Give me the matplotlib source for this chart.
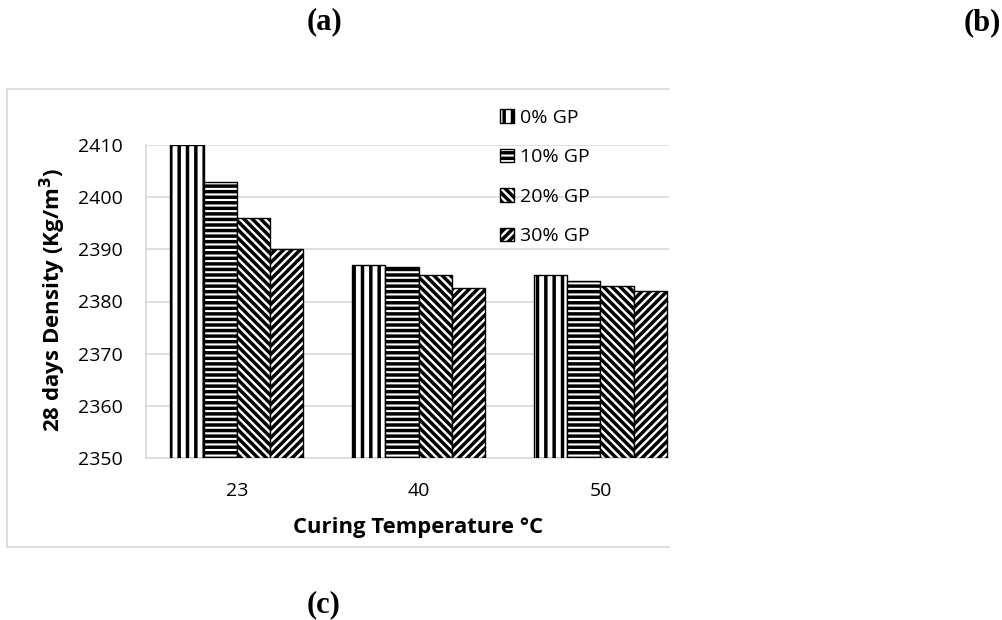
import numpy as np
import matplotlib
matplotlib.use("Agg")
import matplotlib.pyplot as plt
from matplotlib.lines import Line2D

# --- data ---
temperatures = ["23", "40", "50"]
series_names = ["0% GP", "10% GP", "20% GP", "30% GP"]
gp0 = [2410.0, 2387.0, 2385.0]
gp10 = [2403.0, 2386.7, 2384.0]
gp20 = [2396.0, 2385.0, 2383.0]
gp30 = [2390.0, 2382.5, 2382.0]
yticks = [2350, 2360, 2370, 2380, 2390, 2400, 2410]

series = [gp0, gp10, gp20, gp30]
hatches = ["||", "---", "\\\\\\\\", "////"]

plt.rcParams["font.family"] = ["Open Sans", "DejaVu Sans"]
plt.rcParams["hatch.linewidth"] = 2.5
plt.rcParams["hatch.color"] = "black"

W, H = 1003, 620
fig = plt.figure(figsize=(W / 100, H / 100), dpi=100)

# light grey chart frame, cut off on the right like the source image
frame = dict(transform=fig.transFigure, color="#d9d9d9", linewidth=1.2)
fig.add_artist(Line2D([7 / W, 669 / W], [1 - 89 / H, 1 - 89 / H], **frame))
fig.add_artist(Line2D([7 / W, 669 / W], [1 - 547 / H, 1 - 547 / H], **frame))
fig.add_artist(Line2D([7 / W, 7 / W], [1 - 89 / H, 1 - 547 / H], **frame))

# plot area: 146..669 px wide, 145..458 px tall
ax = fig.add_axes([146 / W, 1 - 458 / H, (669 - 146) / W, (458 - 145) / H])

x = np.arange(len(temperatures))
width = 0.183
for i, (vals, h, name) in enumerate(zip(series, hatches, series_names)):
    ax.bar(x + (i - 1.5) * width, np.array(vals) - 2350, bottom=2350,
           width=width, color="white", edgecolor="black", linewidth=1.0,
           hatch=h, label=name, zorder=3)

ax.set_ylim(2350, 2410)
ax.set_xlim(-0.5, 2.377)
ax.set_yticks(yticks)
ax.set_xticks(x)
ax.set_xticklabels(temperatures)
ax.tick_params(axis="both", length=0, labelsize=14, colors="black")
ax.tick_params(axis="y", pad=17)
ax.tick_params(axis="x", pad=17)
ax.grid(axis="y", color="#d9d9d9", linewidth=1.2, zorder=0)
ax.set_axisbelow(True)
for side in ["top", "right"]:
    ax.spines[side].set_visible(False)
for side in ["left", "bottom"]:
    ax.spines[side].set_color("#d9d9d9")
    ax.spines[side].set_linewidth(1.2)

fig.text(53 / W, 1 - 300 / H, "28 days Density (Kg/m$^{\\mathbf{3}}$)", fontsize=16,
         fontweight="bold", rotation=90, ha="center", va="center")
fig.text(418 / W, 1 - 528 / H, "Curing Temperature °C", fontsize=15.8,
         fontweight="bold", ha="center", va="center")

leg = ax.legend(loc="upper left", bbox_to_anchor=(500 / W, 1 - 109 / H),
                bbox_transform=fig.transFigure, frameon=False, fontsize=14,
                handlelength=0.7, handleheight=0.7, handletextpad=0.35,
                labelspacing=1.1, borderpad=0, borderaxespad=0)

serif = ["Liberation Serif", "DejaVu Serif"]
fig.text(325 / W, 1 - 22 / H, "(a)", family=serif, fontsize=22, fontweight="bold",
         ha="center", va="center")
fig.text(982 / W, 1 - 23 / H, "(b)", family=serif, fontsize=22, fontweight="bold",
         ha="center", va="center")
fig.text(324 / W, 1 - 605 / H, "(c)", family=serif, fontsize=22, fontweight="bold",
         ha="center", va="center")

fig.savefig("out.png", dpi=100)
plt.close(fig)
